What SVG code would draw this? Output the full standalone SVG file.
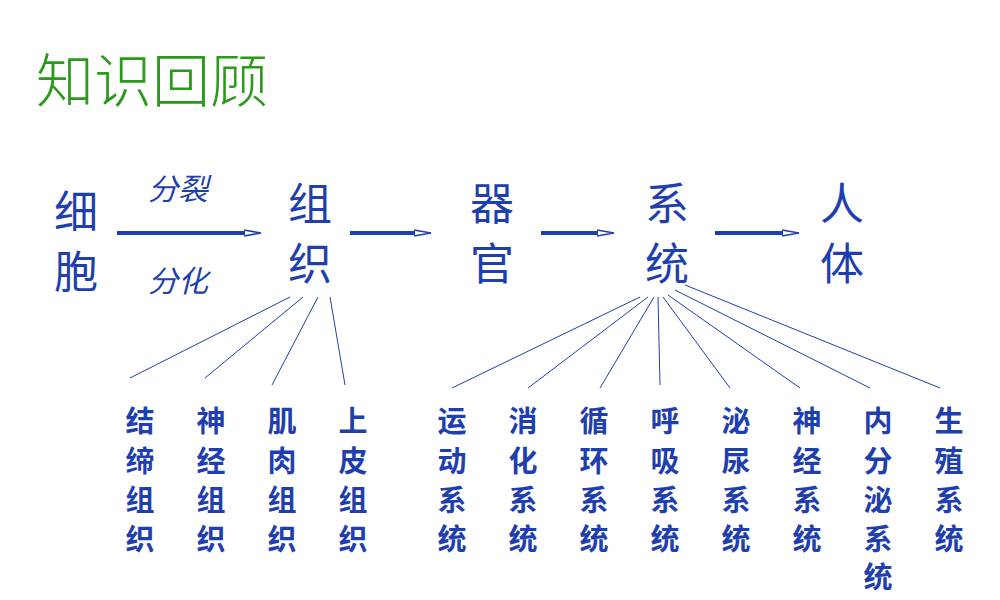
<svg xmlns="http://www.w3.org/2000/svg" width="1000" height="600" viewBox="0 0 1000 600">
<style>
.t{font-family:"Noto Sans CJK SC",sans-serif;fill:#1f3fae}
.big{font-size:44px}
.sm{font-size:29px;font-weight:bold;text-anchor:middle}
.it{font-size:30px;font-style:italic}
.th{stroke:#1f3fae;stroke-width:4}
.ah{stroke:#1f3fae;stroke-width:1.5;fill:none}
.ln{stroke:#1f3fae;stroke-width:1}
</style>
<rect width="1000" height="600" fill="#fff"/>
<text x="36" y="102" font-family="Noto Sans CJK SC,sans-serif" font-size="58" font-weight="300" fill="#2a9a1a">知识回顾</text>
<g id="cell" class="t big"><text x="54" y="228">细</text><text x="54" y="288">胞</text></g>
<g id="tissue" class="t big"><text x="288" y="220">组</text><text x="288" y="280">织</text></g>
<g id="organ" class="t big"><text x="470" y="220">器</text><text x="470" y="280">官</text></g>
<g id="system" class="t big"><text x="645" y="220">系</text><text x="645" y="280">统</text></g>
<g id="body" class="t big"><text x="820" y="220">人</text><text x="820" y="280">体</text></g>
<g id="labels" class="t it"><text x="148" y="200">分裂</text><text x="148" y="292">分化</text></g>
<g id="connectors">
<line class="th" x1="117" y1="233" x2="245" y2="233"/><path class="ah" d="M244 230 L261 233 L244 236"/>
<line class="th" x1="350" y1="233" x2="415" y2="233"/><path class="ah" d="M414 230 L431 233 L414 236"/>
<line class="th" x1="541" y1="233" x2="598" y2="233"/><path class="ah" d="M597 230 L614 233 L597 236"/>
<line class="th" x1="715" y1="233" x2="783" y2="233"/><path class="ah" d="M782 230 L799 233 L782 236"/>
<line class="ln" x1="290" y1="297" x2="130" y2="378"/>
<line class="ln" x1="303" y1="297" x2="205" y2="378"/>
<line class="ln" x1="318" y1="297" x2="272" y2="385"/>
<line class="ln" x1="330" y1="297" x2="345" y2="385"/>
<line class="ln" x1="640" y1="297" x2="452" y2="388"/>
<line class="ln" x1="648" y1="297" x2="528" y2="388"/>
<line class="ln" x1="654" y1="297" x2="600" y2="388"/>
<line class="ln" x1="658" y1="297" x2="660" y2="385"/>
<line class="ln" x1="663" y1="297" x2="730" y2="388"/>
<line class="ln" x1="668" y1="295" x2="800" y2="388"/>
<line class="ln" x1="675" y1="290" x2="870" y2="388"/>
<line class="ln" x1="685" y1="285" x2="940" y2="388"/>
</g>
<g class="t sm">
<g id="n1"><text x="140" y="432">结</text><text x="140" y="472">缔</text><text x="140" y="511">组</text><text x="140" y="550">织</text></g>
<g id="n2"><text x="211" y="432">神</text><text x="211" y="472">经</text><text x="211" y="511">组</text><text x="211" y="550">织</text></g>
<g id="n3"><text x="282" y="432">肌</text><text x="282" y="472">肉</text><text x="282" y="511">组</text><text x="282" y="550">织</text></g>
<g id="n4"><text x="353" y="432">上</text><text x="353" y="472">皮</text><text x="353" y="511">组</text><text x="353" y="550">织</text></g>
<g id="s1"><text x="452" y="432">运</text><text x="452" y="472">动</text><text x="452" y="511">系</text><text x="452" y="550">统</text></g>
<g id="s2"><text x="523" y="432">消</text><text x="523" y="472">化</text><text x="523" y="511">系</text><text x="523" y="550">统</text></g>
<g id="s3"><text x="594" y="432">循</text><text x="594" y="472">环</text><text x="594" y="511">系</text><text x="594" y="550">统</text></g>
<g id="s4"><text x="665" y="432">呼</text><text x="665" y="472">吸</text><text x="665" y="511">系</text><text x="665" y="550">统</text></g>
<g id="s5"><text x="736" y="432">泌</text><text x="736" y="472">尿</text><text x="736" y="511">系</text><text x="736" y="550">统</text></g>
<g id="s6"><text x="807" y="432">神</text><text x="807" y="472">经</text><text x="807" y="511">系</text><text x="807" y="550">统</text></g>
<g id="s7"><text x="878" y="432">内</text><text x="878" y="472">分</text><text x="878" y="511">泌</text><text x="878" y="550">系</text><text x="878" y="588">统</text></g>
<g id="s8"><text x="949" y="432">生</text><text x="949" y="472">殖</text><text x="949" y="511">系</text><text x="949" y="550">统</text></g>
</g>
</svg>
